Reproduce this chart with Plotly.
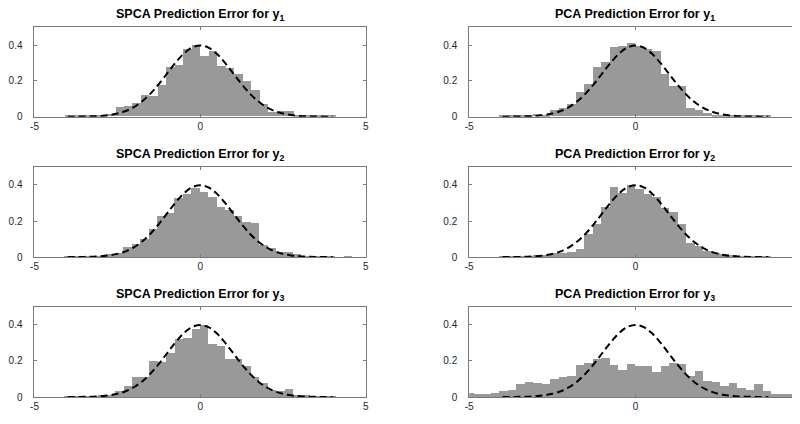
import numpy as np
import plotly.graph_objects as go

# ---------------- data ----------------
bin_width = 0.256

titles = [
    "SPCA Prediction Error for y<sub>1</sub>", "PCA Prediction Error for y<sub>1</sub>",
    "SPCA Prediction Error for y<sub>2</sub>", "PCA Prediction Error for y<sub>2</sub>",
    "SPCA Prediction Error for y<sub>3</sub>", "PCA Prediction Error for y<sub>3</sub>",
]

# bin edge offset and index of first bin (edges = offset + k*bin_width)
spca_y1_offset, spca_y1_first = 0.02, -16
spca_y1 = [0.003, 0.004, 0.005, 0.005, 0.010, 0.015, 0.050, 0.060, 0.077, 0.120, 0.115,
           0.178, 0.278, 0.290, 0.375, 0.400, 0.336, 0.367, 0.284, 0.270, 0.235, 0.200,
           0.147, 0.070, 0.025, 0.030, 0.028, 0.010, 0.005, 0.004, 0.003, 0.003]

pca_y1_offset, pca_y1_first = 0.0, -16
pca_y1 = [0.003, 0.003, 0.004, 0.005, 0.013, 0.010, 0.037, 0.046, 0.068, 0.134, 0.183,
          0.275, 0.306, 0.390, 0.395, 0.410, 0.395, 0.376, 0.363, 0.235, 0.170, 0.170,
          0.046, 0.037, 0.018, 0.010, 0.005, 0.004, 0.003, 0.003, 0.002, 0.002]

spca_y2_offset, spca_y2_first = 0.0, -16
spca_y2 = [0.003, 0.004, 0.005, 0.005, 0.008, 0.015, 0.020, 0.058, 0.073, 0.099, 0.154,
           0.227, 0.245, 0.327, 0.350, 0.386, 0.360, 0.336, 0.280, 0.263, 0.226, 0.195,
           0.190, 0.065, 0.050, 0.030, 0.030, 0.016, 0.005, 0.004, 0.003, 0.002, 0.000,
           0.004]

pca_y2_offset, pca_y2_first = 0.0, -16
pca_y2 = [0.003, 0.004, 0.005, 0.005, 0.010, 0.013, 0.020, 0.025, 0.030, 0.047, 0.126,
          0.184, 0.277, 0.387, 0.354, 0.400, 0.380, 0.350, 0.336, 0.270, 0.248, 0.184,
          0.080, 0.062, 0.035, 0.022, 0.015, 0.010, 0.005, 0.004, 0.003, 0.003]

spca_y3_offset, spca_y3_first = 0.01, -16
spca_y3 = [0.004, 0.005, 0.005, 0.008, 0.013, 0.015, 0.035, 0.065, 0.113, 0.113, 0.204,
           0.198, 0.247, 0.325, 0.329, 0.380, 0.400, 0.296, 0.284, 0.215, 0.215, 0.175,
           0.115, 0.078, 0.042, 0.033, 0.045, 0.015, 0.011, 0.005, 0.004, 0.003]

pca_y3_offset, pca_y3_first = 0.0, -20
pca_y3 = [0.025, 0.016, 0.020, 0.025, 0.034, 0.043, 0.074, 0.085, 0.080, 0.076, 0.100,
          0.110, 0.120, 0.180, 0.188, 0.210, 0.218, 0.180, 0.152, 0.183, 0.176, 0.174,
          0.143, 0.176, 0.188, 0.183, 0.120, 0.146, 0.092, 0.085, 0.062, 0.080, 0.052,
          0.043, 0.076, 0.034, 0.020, 0.020, 0.020, 0.020]

# reference density curve (dashed), read at 0.25 steps from -4 to 4
curve_x = [-4.0 + 0.25 * i for i in range(33)]
curve_y = [0.0001, 0.0004, 0.0009, 0.0020, 0.0044, 0.0091, 0.0175, 0.0317, 0.0540,
           0.0863, 0.1295, 0.1826, 0.2420, 0.3011, 0.3521, 0.3867, 0.3989, 0.3867,
           0.3521, 0.3011, 0.2420, 0.1826, 0.1295, 0.0863, 0.0540, 0.0317, 0.0175,
           0.0091, 0.0044, 0.0020, 0.0009, 0.0004, 0.0001]

x_ticks = [-5, 0, 5]
x_ticktext = ["-5", "0", "5"]
y_ticks = [0, 0.2, 0.4]
y_ticktext = ["0", "0.2", "0.4"]

panels = [
    (spca_y1, spca_y1_offset, spca_y1_first),
    (pca_y1, pca_y1_offset, pca_y1_first),
    (spca_y2, spca_y2_offset, spca_y2_first),
    (pca_y2, pca_y2_offset, pca_y2_first),
    (spca_y3, spca_y3_offset, spca_y3_first),
    (pca_y3, pca_y3_offset, pca_y3_first),
]

# ---------------- layout geometry ----------------
# the page body has an 8px margin, so the figure is 8px smaller and shifted
PAD = 8
W, H = 800 - PAD, 424 - PAD


def px_x(v):
    return (v - PAD) / W


def px_y(v):
    return 1 - (v - PAD) / H


left_dom = [px_x(30.7), px_x(365.0)]
right_dom = [px_x(469.3), 1.0]
unit_px = (637.0 - 469.3) / 5.0
right_max = (800.0 - 637.0) / unit_px
row_px = [(27.7, 118.3), (169.3, 260.7), (311.0, 402.7)]
row_dom = [[px_y(b), px_y(t)] for t, b in row_px]

FONT = "Liberation Sans, Arial, Helvetica, sans-serif"
AXC = "#7a7a7a"
TXC = "#262626"

fig = go.Figure()
layout = dict(
    width=W, height=H, margin=dict(l=0, r=0, t=0, b=0),
    paper_bgcolor="white", plot_bgcolor="white", showlegend=False,
    bargap=0, font=dict(family=FONT, size=10, color=TXC),
)
annotations = []

for i, (heights, offset, first) in enumerate(panels):
    n = i + 1
    xa = "x" if n == 1 else f"x{n}"
    ya = "y" if n == 1 else f"y{n}"
    row, col = divmod(i, 2)
    k = np.arange(first, first + len(heights))
    centers = offset + (k + 0.5) * bin_width
    fig.add_trace(go.Bar(
        x=centers, y=heights, width=bin_width, xaxis=xa, yaxis=ya,
        marker=dict(color="#999999", line=dict(width=0)), hoverinfo="skip",
    ))
    fig.add_trace(go.Scatter(
        x=curve_x, y=curve_y, xaxis=xa, yaxis=ya, mode="lines",
        line=dict(color="black", width=2, dash="7px,4px", shape="spline"),
        hoverinfo="skip",
    ))
    xr = [-5, 5] if col == 0 else [-5, right_max]
    layout[f"xaxis{'' if n == 1 else n}"] = dict(
        domain=left_dom if col == 0 else right_dom, range=xr, anchor=ya,
        tickvals=x_ticks, ticktext=x_ticktext, ticks="inside", ticklen=3,
        tickcolor=AXC, showline=True, linecolor=AXC, linewidth=1, mirror="ticks",
        showgrid=False, zeroline=False, fixedrange=True,
        tickfont=dict(family=FONT, size=10, color=TXC),
    )
    layout[f"yaxis{'' if n == 1 else n}"] = dict(
        domain=row_dom[row], range=[0, 0.5], anchor=xa,
        tickvals=y_ticks, ticktext=y_ticktext, ticks="inside", ticklen=3,
        tickcolor=AXC, showline=True, linecolor=AXC, linewidth=1,
        mirror="ticks" if col == 0 else False,
        showgrid=False, zeroline=False, fixedrange=True, ticklabelstandoff=9,
        tickfont=dict(family=FONT, size=10, color=TXC),
    )
    annotations.append(dict(
        text=f"<b>{titles[i]}</b>", xref=xa, x=0, yref=f"{ya} domain", y=1,
        xanchor="center", yanchor="bottom", yshift=2, showarrow=False,
        font=dict(family=FONT, size=12.5, color="black"),
    ))

layout["annotations"] = annotations
fig.update_layout(**layout)
fig.write_html("out.html")
